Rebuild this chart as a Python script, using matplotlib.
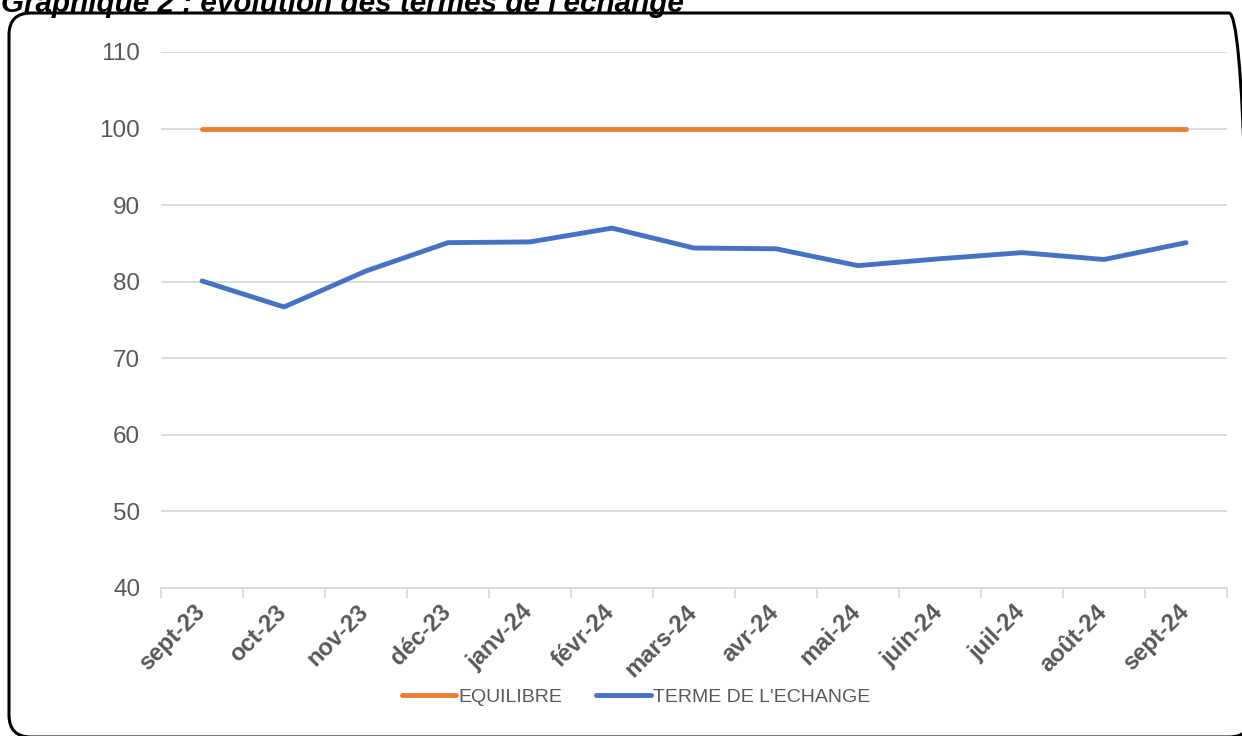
import matplotlib
matplotlib.use("Agg")
import matplotlib.pyplot as plt
from matplotlib.patches import FancyBboxPatch
from matplotlib.transforms import IdentityTransform, ScaledTranslation

categories = ["sept-23", "oct-23", "nov-23", "déc-23", "janv-24", "févr-24", "mars-24",
              "avr-24", "mai-24", "juin-24", "juil-24", "août-24", "sept-24"]
equilibre = [100] * 13
terme = [80.1, 76.7, 81.4, 85.1, 85.2, 87.0, 84.4, 84.3, 82.1, 83.0, 83.8, 82.9, 85.1]
yticks = [40, 50, 60, 70, 80, 90, 100, 110]

plt.rcParams['font.family'] = ['Liberation Sans', 'DejaVu Sans']
W, H = 1242, 736
fig = plt.figure(figsize=(W / 100, H / 100), dpi=100)
ax = fig.add_axes([161 / W, 1 - 588 / H, (1227 - 161) / W, (588 - 52) / H])

x = list(range(len(categories)))
ax.plot(x, equilibre, color="#ED7D31", lw=3.5, solid_capstyle="round", label="EQUILIBRE", zorder=3)
ax.plot(x, terme, color="#4472C4", lw=3.5, solid_capstyle="round", solid_joinstyle="round",
        label="TERME DE L'ECHANGE", zorder=3)

ax.set_xlim(-0.5, len(categories) - 0.5)
ax.set_ylim(40, 110)
ax.set_yticks(yticks)
ax.set_yticklabels([str(v) for v in yticks], fontsize=17.5, color="#595959")
ax.tick_params(axis="y", length=0, pad=15)
ax.grid(axis="y", color="#D9D9D9", lw=1.3)
ax.set_axisbelow(True)
for s in ["left", "right", "top"]:
    ax.spines[s].set_visible(False)
ax.spines["bottom"].set_color("#D9D9D9")
ax.spines["bottom"].set_linewidth(1.3)

ax.set_xticks([i - 0.5 for i in range(len(categories) + 1)], minor=False)
ax.set_xticklabels([])
ax.tick_params(axis="x", which="major", length=7, color="#D9D9D9", width=1.3)
ax.set_xticks(x, minor=True)
ax.set_xticklabels(categories, minor=True, rotation=45, ha="right", va="top",
                   rotation_mode="anchor", fontsize=17, fontweight="bold", color="#595959")
ax.tick_params(axis="x", which="minor", length=0, pad=9)
shift = ScaledTranslation(-9 / 100, 0, fig.dpi_scale_trans)
for lbl in ax.get_xticklabels(minor=True):
    lbl.set_transform(lbl.get_transform() + shift)

fig.legend(loc="center", bbox_to_anchor=(636 / W, 1 - 697 / H), ncol=2, frameon=False,
           fontsize=14, labelcolor="#595959", handlelength=2.8, handletextpad=0.12,
           columnspacing=1.75)

fig.text(1 / W, 1 - 11.5 / H, "Graphique 2 : évolution des termes de l'échange", fontsize=21.3,
         fontweight="bold", fontstyle="italic", ha="left", va="baseline", color="black")

box = FancyBboxPatch((9, -1), 1242, H - 13 + 1, boxstyle="round,pad=0,rounding_size=22",
                     transform=IdentityTransform(), fill=False, ec="black", lw=2.2)
fig.patches.append(box)

fig.savefig("out.png", dpi=100, facecolor="white")
